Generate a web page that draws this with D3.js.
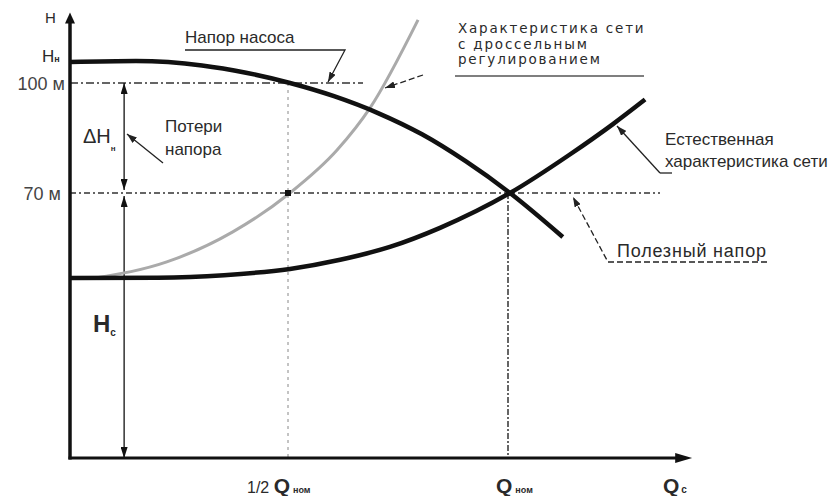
<!DOCTYPE html>
<html lang="ru">
<head>
<meta charset="utf-8">
<title>Напор насоса и характеристика сети</title>
<script src="https://d3js.org/d3.v7.min.js"></script>
<style>
  body { margin: 0; background: #fff; }
  text { font-family: "Liberation Sans", Arial, sans-serif; fill: #2a2a2a; }
</style>
</head>
<body>
<script>
// Q is flow relative to Q ном, H is head in metres
var pumpQ = [0, 0.15, 0.3, 0.4, 0.5, 0.6, 0.7, 0.8, 0.9, 1, 1.12];
var pumpH = [105.7, 106.0, 104.8, 102.8, 100, 96.4, 91.8, 86.0, 78.6, 70, 58.0];

var netQ = [0, 0.2, 0.35, 0.5, 0.614, 0.727, 0.841, 1, 1.136, 1.234, 1.307];
var netH = [46.8, 46.9, 47.6, 49.3, 51.8, 55.3, 60.5, 70, 80.5, 88.8, 95.5];

var thrQ = [0.057, 0.22, 0.37, 0.5, 0.607, 0.682, 0.791];
var thrH = [46.8, 51.2, 59.4, 70, 81.7, 93.2, 117.2];

var levels = [100, 70];
var levelLabels = ["100 м", "70 м"];
var levelEnds = [0.666, 1.341];

var qMarks = [0.5, 1];
var qMarkTops = [100, 70];

var qMax = 1.414, hMin = -2.3, hMax = 119.2;

var w = 831, h = 496;

var x = d3.scaleLinear().domain([0, 1]).range([70, 510]);
var y = d3.scaleLinear().domain([70, 100]).range([193, 83]);

var svg = d3.select("body").append("svg")
    .attr("width", w)
    .attr("height", h);

var defs = svg.append("defs");
function marker(id, len, wid, color) {
  defs.append("marker")
      .attr("id", id)
      .attr("viewBox", "0 0 10 10")
      .attr("refX", 10).attr("refY", 5)
      .attr("markerWidth", len).attr("markerHeight", wid)
      .attr("markerUnits", "userSpaceOnUse")
      .attr("preserveAspectRatio", "none")
      .attr("orient", "auto-start-reverse")
    .append("path")
      .attr("d", "M0,0L10,5L0,10Z")
      .attr("fill", color);
}
marker("tri", 11, 7, "#111");
marker("lead", 10, 7, "#222");

var line = d3.line()
    .x(d => x(d[0]))
    .y(d => y(d[1]))
    .curve(d3.curveMonotoneX);

// reference levels 100 m and 70 m
svg.selectAll(".level")
    .data(levels)
  .enter().append("line")
    .attr("class", "level")
    .attr("x1", x(0))
    .attr("x2", (d, i) => x(levelEnds[i]))
    .attr("y1", d => y(d))
    .attr("y2", d => y(d))
    .attr("stroke", "#333")
    .attr("stroke-width", 1.3)
    .attr("stroke-dasharray", (d, i) => i == 0 ? "8,3,2,3" : "6,3,2,3");

svg.selectAll(".lvlLabel")
    .data(levels)
  .enter().append("text")
    .attr("x", (d, i) => i == 0 ? 65 : 61)
    .attr("y", d => y(d) + 7)
    .attr("text-anchor", "end")
    .style("font-size", "18px")
    .style("fill", "#444")
    .text((d, i) => levelLabels[i]);

// vertical marks at 1/2 Qном and Qном
svg.selectAll(".qmark")
    .data(qMarks)
  .enter().append("line")
    .attr("x1", d => x(d) - 2)
    .attr("x2", d => x(d) - 2)
    .attr("y1", (d, i) => y(qMarkTops[i]))
    .attr("y2", y(hMin))
    .attr("stroke", (d, i) => i == 0 ? "#888" : "#333")
    .attr("stroke-width", (d, i) => i == 0 ? 1 : 1.5)
    .attr("stroke-dasharray", (d, i) => i == 0 ? "3,4" : "6,2,2,2");

// head arrows (ΔHн and Hс)
var qArrow = 0.123;
svg.append("line")
    .attr("x1", x(qArrow)).attr("x2", x(qArrow))
    .attr("y1", y(100)).attr("y2", y(70.8))
    .attr("stroke", "#111").attr("stroke-width", 1.3)
    .attr("marker-start", "url(#tri)")
    .attr("marker-end", "url(#tri)");
svg.append("line")
    .attr("x1", x(qArrow)).attr("x2", x(qArrow))
    .attr("y1", y(69.2)).attr("y2", y(hMin))
    .attr("stroke", "#111").attr("stroke-width", 1.3)
    .attr("marker-start", "url(#tri)")
    .attr("marker-end", "url(#tri)");

// curves
svg.append("path")
    .datum(thrQ.map((q, i) => [q, thrH[i]]))
    .attr("d", line)
    .attr("fill", "none")
    .attr("stroke", "#aaa")
    .attr("stroke-width", 3);

svg.append("path")
    .datum(netQ.map((q, i) => [q, netH[i]]))
    .attr("d", line)
    .attr("fill", "none")
    .attr("stroke", "#111")
    .attr("stroke-width", 4.5);

svg.append("path")
    .datum(pumpQ.map((q, i) => [q, pumpH[i]]))
    .attr("d", line)
    .attr("fill", "none")
    .attr("stroke", "#111")
    .attr("stroke-width", 4.5);

// point at 1/2 Qном on the 70 m level
svg.append("rect")
    .attr("x", x(0.5) - 5).attr("y", y(70) - 3)
    .attr("width", 6).attr("height", 6)
    .attr("fill", "#111");

// axes
var x0 = x(0), yb = y(hMin);
svg.append("line")
    .attr("x1", x0).attr("x2", x0)
    .attr("y1", yb + 1.5).attr("y2", y(hMax) + 8)
    .attr("stroke", "#111").attr("stroke-width", 3.5);
svg.append("path")
    .attr("d", `M${x0},${y(hMax)}L${x0 - 5},${y(hMax) + 11}L${x0 + 5},${y(hMax) + 11}Z`)
    .attr("fill", "#111");
svg.append("line")
    .attr("x1", x0 - 1.5).attr("x2", x(qMax) - 10)
    .attr("y1", yb).attr("y2", yb)
    .attr("stroke", "#111").attr("stroke-width", 3);
svg.append("path")
    .attr("d", `M${x(qMax)},${yb}L${x(qMax) - 17},${yb - 5}L${x(qMax) - 17},${yb + 5}Z`)
    .attr("fill", "#111");

// leaders
function leader(pts, dash) {
  svg.append("path")
      .attr("d", d3.line()(pts))
      .attr("fill", "none")
      .attr("stroke", "#222")
      .attr("stroke-width", 1.3)
      .attr("stroke-dasharray", dash)
      .attr("marker-end", "url(#lead)");
}
leader([[185, 50], [345, 50], [328, 82]], null);
leader([[423, 75], [385, 88]], "6,3");
leader([[660, 173], [617, 126]], null);
leader([[767, 262], [608, 262], [573, 197]], "6,3");
leader([[163, 163], [127, 134]], null);

svg.append("line")
    .attr("x1", 455).attr("x2", 644)
    .attr("y1", 76).attr("y2", 76)
    .attr("stroke", "#555").attr("stroke-width", 1.5);
svg.append("line")
    .attr("x1", 660).attr("x2", 672)
    .attr("y1", 173).attr("y2", 173)
    .attr("stroke", "#222").attr("stroke-width", 1.3);

// labels
function label(tx, ty, size, str, opts) {
  var t = svg.append("text")
      .attr("x", tx).attr("y", ty)
      .style("font-size", size + "px")
      .text(str);
  if (opts) Object.keys(opts).forEach(k => t.style(k, opts[k]));
  return t;
}
function sub(t, str, size, dy) {
  t.append("tspan")
      .attr("dy", dy)
      .style("font-size", size + "px")
      .style("font-weight", "bold")
      .text(str);
}

label(45, 23, 15, "H");
sub(label(42, 62, 17, "H"), "н", 9, 0);
sub(label(83, 143, 20, "ΔH"), "н", 8, 8);
sub(label(93, 332, 24, "H", {"font-weight": "bold"}), "с", 10, 4);

label(185, 43, 17, "Напор насоса");
label(165, 132, 17, "Потери");
label(165, 155, 17, "напора");

var dj = {"font-family": "'DejaVu Sans', sans-serif", "letter-spacing": "1.8px"};
label(458, 33, 13.5, "Характеристика сети", dj);
label(458, 48.5, 13.5, "с дроссельным", dj);
label(458, 64, 13.5, "регулированием", dj);

label(665, 145, 17, "Естественная");
label(665, 167, 17, "характеристика сети");
label(617, 257, 18, "Полезный напор", {"letter-spacing": "0.8px"});

var t1 = label(247, 493, 16, "1/2 ");
t1.append("tspan").style("font-size", "21px").style("font-weight", "bold").text("Q");
t1.append("tspan").attr("dx", 3).style("font-size", "9px").style("font-weight", "bold").text("ном");

var t2 = label(496, 493, 21, "Q", {"font-weight": "bold"});
t2.append("tspan").attr("dx", 3).style("font-size", "9px").text("ном");

var t3 = label(663, 493, 21, "Q", {"font-weight": "bold"});
t3.append("tspan").attr("dx", 2).style("font-size", "10px").text("с");
</script>
</body>
</html>
